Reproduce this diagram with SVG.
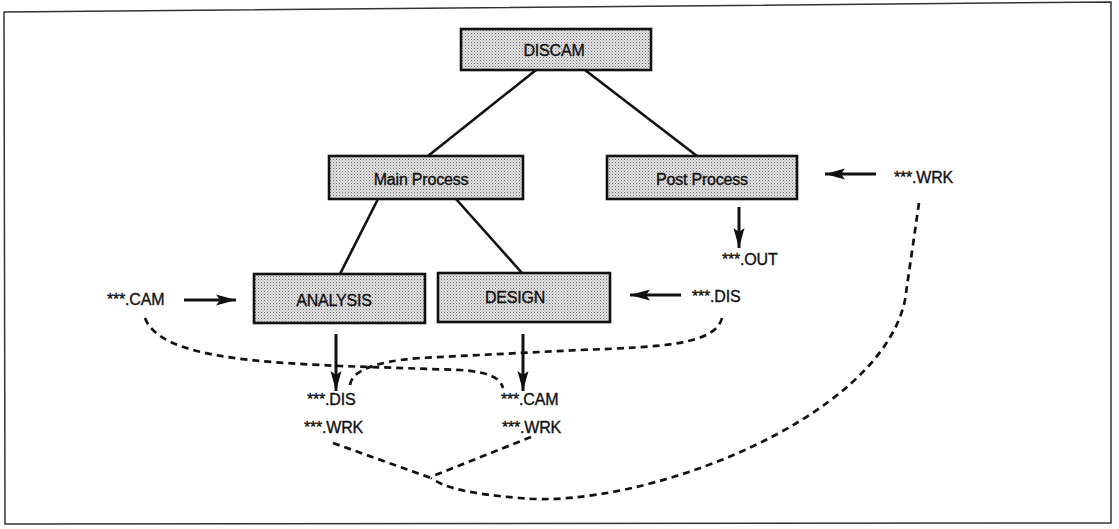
<svg xmlns="http://www.w3.org/2000/svg" width="1119" height="529" viewBox="0 0 1119 529">
<style>
.box{fill:url(#dots);stroke:#111;stroke-width:2.6}
.t{font-family:"Liberation Sans",Arial,sans-serif;font-size:16px;fill:#111;stroke:#111;stroke-width:0.35;letter-spacing:-0.2px}
.lbl{text-anchor:middle}
.tree{stroke:#111;stroke-width:2.6;fill:none}
.arr{stroke:#111;stroke-width:3;fill:none;marker-end:url(#ah)}
.dash{stroke:#111;stroke-width:2.7;fill:none;stroke-dasharray:7 5}
</style>
<defs>
<pattern id="dots" width="3" height="3" patternUnits="userSpaceOnUse">
<rect width="3" height="3" fill="#e2e2e2"/>
<rect width="1" height="1" fill="#6e6e6e"/>
<rect x="1.5" y="1.5" width="1" height="1" fill="#9a9a9a"/>
</pattern>
<marker id="ah" markerUnits="userSpaceOnUse" markerWidth="22" markerHeight="12" refX="20" refY="6" orient="auto">
<path d="M0,0.5 L20,6 L0,11.5 L4,6 Z" fill="#111"/>
</marker>
</defs>
<polygon points="4,12 1111,2 1111,523 5,524" fill="none" stroke="#333" stroke-width="1.5"/>
<g id="connectors">
<line class="tree" x1="536" y1="70" x2="428" y2="156"/>
<line class="tree" x1="585" y1="70" x2="697" y2="156"/>
<line class="tree" x1="378" y1="199" x2="340" y2="274"/>
<line class="tree" x1="456" y1="199" x2="522" y2="273"/>
<line class="arr" x1="184" y1="300" x2="236" y2="300"/>
<line class="arr" x1="681" y1="295" x2="630" y2="295"/>
<line class="arr" x1="876" y1="174" x2="825" y2="174"/>
<line class="arr" x1="739" y1="207" x2="739" y2="248"/>
<line class="arr" x1="336" y1="334" x2="336" y2="391"/>
<line class="arr" x1="523" y1="334" x2="523" y2="391"/>
<path class="dash" d="M145,318 C160,358 260,362 340,366 L460,370 C490,372 500,378 503,388"/>
<path class="dash" d="M722,318 C715,345 660,347 580,350 L420,358 C370,362 352,372 350,385"/>
<path class="dash" d="M333,443 L431,478"/>
<path class="dash" d="M531,437 L433,476"/>
<path class="dash" d="M919,203 L905,300 C880,420 640,510 520,498 C470,494 445,488 431,478"/>
</g>
<g id="discam"><rect class="box" x="461" y="29" width="190" height="41"/><text class="t lbl" x="554" y="56">DISCAM</text></g>
<g id="main-process"><rect class="box" x="329" y="156" width="194" height="43"/><text class="t lbl" x="421" y="185">Main Process</text></g>
<g id="post-process"><rect class="box" x="607" y="156" width="190" height="43"/><text class="t lbl" x="702" y="185">Post Process</text></g>
<g id="analysis"><rect class="box" x="254" y="274" width="171" height="49"/><text class="t lbl" x="334" y="306">ANALYSIS</text></g>
<g id="design"><rect class="box" x="438" y="273" width="172" height="49"/><text class="t lbl" x="515" y="303">DESIGN</text></g>
<g id="files">
<text class="t" x="107" y="305">***.CAM</text>
<text class="t" x="692" y="302">***.DIS</text>
<text class="t" x="894" y="183">***.WRK</text>
<text class="t" x="722" y="265">***.OUT</text>
<text class="t" x="307" y="405">***.DIS</text>
<text class="t" x="304" y="433">***.WRK</text>
<text class="t" x="501" y="405">***.CAM</text>
<text class="t" x="502" y="433">***.WRK</text>
</g>
</svg>
